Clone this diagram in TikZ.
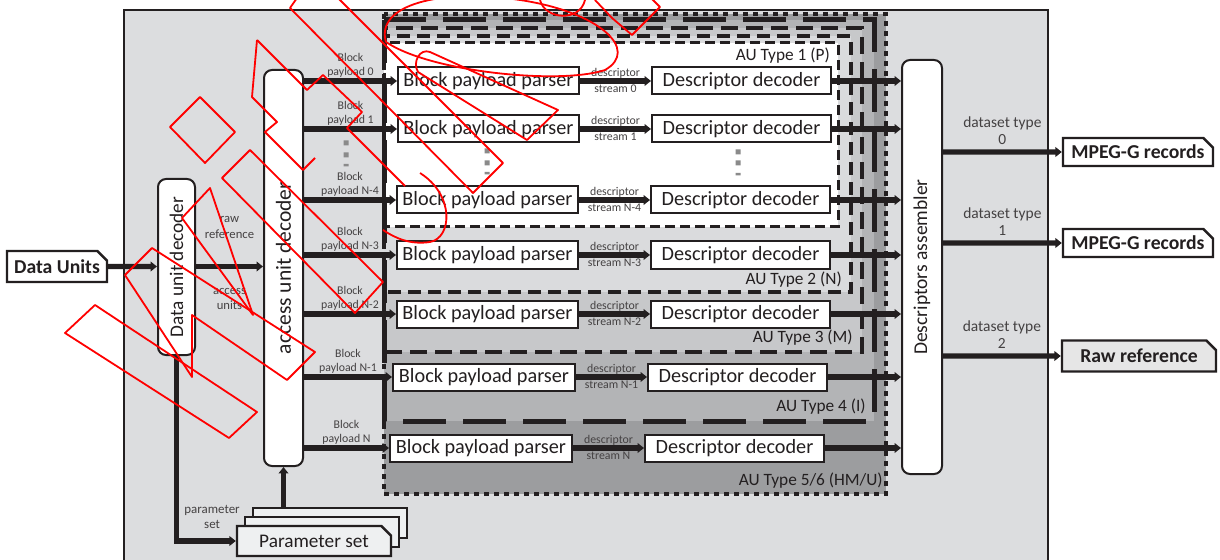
\documentclass[tikz,border=0pt]{standalone}
\usepackage{fontspec}
\setmainfont{Carlito}
\usetikzlibrary{arrows.meta,positioning,shapes.misc}
\definecolor{ink}{HTML}{231F20}
\definecolor{panel}{HTML}{DCDDDF}
\definecolor{auii}{HTML}{DADBDD}
\definecolor{auiii}{HTML}{C7C8CA}
\definecolor{auiv}{HTML}{B3B4B6}
\definecolor{auv}{HTML}{9C9D9F}
\definecolor{psfill}{HTML}{EEF0F1}
\definecolor{rawfill}{HTML}{E6E6E6}
\definecolor{dotgray}{HTML}{8A8A8A}
\newcommand{\boxfont}{\fontsize{14.4}{16}\selectfont}
\newcommand{\smallfont}{\fontsize{8.4}{10.5}\selectfont}
\tikzset{
  parser/.style={draw=ink,line width=0.5mm,fill=white,text=ink,inner sep=0pt,
    minimum height=6.75mm,font=\boxfont},
  unit/.style={draw=ink,line width=0.5mm,fill=white,rounded corners=2mm,inner sep=0pt},
  sideio/.style={chamfered rectangle,chamfered rectangle corners=north east,
    chamfered rectangle xsep=1.2mm,chamfered rectangle ysep=1.2mm,
    draw=ink,line width=0.6mm,fill=white,text=ink,inner sep=0pt,
    font=\bfseries\fontsize{14}{16}\selectfont},
  flow/.style={-{Triangle[length=1.6mm,width=2.4mm]},line width=1.3mm,draw=ink},
  lbl/.style={font=\smallfont,text=ink!85,align=center,inner sep=0pt},
  autag/.style={font=\fontsize{12.3}{14}\selectfont,text=ink,anchor=east,inner sep=0pt},
  scribble/.style={draw=red,line width=0.45mm,line join=round},
}
\begin{document}
\begin{tikzpicture}[x=0.25mm,y=-0.25mm]
\useasboundingbox (0,0) rectangle (1220,560);
% decoder panel
\fill[panel] (124,10) rectangle (1048,580);
\draw[ink,line width=0.6mm] (124,580) -- (124,10) -- (1048,10) -- (1048,580);
% AU type areas
\fill[auv] (384,14) rectangle (886,494);
\fill[auiv] (384,20) rectangle (874,421);
\fill[auiii] (384,28) rectangle (862,352);
\fill[auii] (384,36) rectangle (851,292);
\fill[white] (384,43) rectangle (838,227);
\draw[ink,line width=0.75mm,dash pattern=on 2.5mm off 1.25mm] (384,43) rectangle (838,227);
\draw[ink,line width=1mm,dash pattern=on 3.25mm off 1.75mm] (384,36) rectangle (851,292);
\draw[ink,line width=1.2mm,dash pattern=on 4.25mm off 2mm] (384,28) rectangle (862,352);
\draw[ink,line width=1.25mm,dash pattern=on 10.75mm off 4.25mm] (384,20) rectangle (874,421);
\draw[ink,line width=1.2mm,dash pattern=on 1.2mm off 1.3mm] (384,14) rectangle (886,494);
\node[autag] at (830,56) {AU Type 1 (P)};
\node[autag] at (842,280) {AU Type 2 (N)};
\node[autag] at (853,338) {AU Type 3 (M)};
\node[autag] at (866,407) {AU Type 4 (I)};
\node[autag] at (883,481) {AU Type 5/6 (HM/U)};

% inputs and decoders
\node[sideio,minimum width=25mm,minimum height=7.75mm] (du) at (57,266.5) {Data Units};
\node[unit,minimum width=9.25mm,minimum height=44mm] (dud) at (176.5,267) {};
\node[rotate=90,font=\fontsize{13.7}{15}\selectfont,text=ink] at (dud) {Data unit decoder};
\node[unit,minimum width=9.75mm,minimum height=99mm] (aud) at (283.5,268) {};
\node[rotate=90,font=\fontsize{15.3}{17}\selectfont,text=ink] at (aud) {access unit decoder};
\node[unit,minimum width=10mm,minimum height=103.5mm] (das) at (922,267) {};
\node[rotate=90,font=\fontsize{13.9}{15}\selectfont,text=ink] at (das) {Descriptors assembler};

% parameter sets
\node[sideio,fill=psfill,minimum width=38.5mm,minimum height=7.5mm] (ps3) at (330,523) {};
\node[sideio,fill=psfill,minimum width=38.5mm,minimum height=7.5mm] (ps2) at (322,532) {};
\node[sideio,fill=psfill,minimum width=38.5mm,minimum height=7.5mm,
  font=\fontsize{13.7}{15}\selectfont] (ps) at (314,541) {Parameter set};

% outputs
\node[sideio,minimum width=37.5mm,minimum height=7mm] (rec0) at (1138,152) {MPEG-G records};
\node[sideio,minimum width=37.5mm,minimum height=7mm] (rec1) at (1138,243) {MPEG-G records};
\node[sideio,fill=rawfill,minimum width=38.5mm,minimum height=7.75mm] (raw) at (1139,356) {Raw reference};

% block payload parsers and descriptor decoders
\node[parser,minimum width=45.25mm] (p0) at (488.5,81) {Block payload parser};
\node[parser,minimum width=44.75mm,right=17.75mm of p0] (d0) {Descriptor decoder};
\node[parser,minimum width=45.25mm] (p1) at (488.5,129) {Block payload parser};
\node[parser,minimum width=44.75mm,right=17.75mm of p1] (d1) {Descriptor decoder};
\node[parser,minimum width=45.25mm] (pN4) at (487.5,200) {Block payload parser};
\node[parser,minimum width=44.75mm,right=17.75mm of pN4] (dN4) {Descriptor decoder};
\node[parser,minimum width=45.25mm] (pN3) at (487.5,255) {Block payload parser};
\node[parser,minimum width=44.75mm,right=17.75mm of pN3] (dN3) {Descriptor decoder};
\node[parser,minimum width=45.25mm] (pN2) at (487.5,314) {Block payload parser};
\node[parser,minimum width=44.75mm,right=17.75mm of pN2] (dN2) {Descriptor decoder};
\node[parser,minimum width=45.5mm] (pN1) at (484,377) {Block payload parser};
\node[parser,minimum width=44.75mm,right=17.75mm of pN1] (dN1) {Descriptor decoder};
\node[parser,minimum width=45.5mm] (pN) at (481,448) {Block payload parser};
\node[parser,minimum width=44.75mm,right=17.75mm of pN] (dN) {Descriptor decoder};

% vertical dots
\fill[dotgray] (343.5,140.5) rectangle +(5,5) (343.5,152.5) rectangle +(5,5) (343.5,164) rectangle +(5,2.5);
\fill[dotgray] (484.5,148.5) rectangle +(5,5) (484.5,160.5) rectangle +(5,5) (484.5,172) rectangle +(5,2.5);
\fill[dotgray] (735.5,149.5) rectangle +(5,5) (735.5,160.5) rectangle +(5,5) (735.5,173) rectangle +(5,2.5);

% connectors
\draw[flow] (du) -- (du -| dud.west);
\draw[flow] (dud.east |- du) --
  node[lbl,midway,yshift=9.75mm,font=\fontsize{9}{11}\selectfont]{raw\\reference}
  node[lbl,midway,yshift=-8.1mm,font=\fontsize{9}{11}\selectfont]{access\\units}
  (aud.west |- du);
\draw[flow] (dud.south) |- node[lbl,pos=0.8,yshift=6mm,font=\fontsize{9.2}{11}\selectfont]{parameter\\set} (ps.west);
\draw[flow] (aud.south |- ps3.north) -- (aud.south);
\draw[flow] (aud.east |- p0) -- node[lbl,midway,yshift=3.9mm]{Block\\payload 0} (p0);
\draw[flow] (aud.east |- p1) -- node[lbl,midway,yshift=3.9mm]{Block\\payload 1} (p1);
\draw[flow] (aud.east |- pN4) -- node[lbl,midway,yshift=3.9mm]{Block\\payload N-4} (pN4);
\draw[flow] (aud.east |- pN3) -- node[lbl,midway,yshift=3.9mm]{Block\\payload N-3} (pN3);
\draw[flow] (aud.east |- pN2) -- node[lbl,midway,yshift=3.9mm]{Block\\payload N-2} (pN2);
\draw[flow] (aud.east |- pN1) -- node[lbl,midway,yshift=3.9mm]{Block\\payload N-1} (pN1);
\draw[flow] (aud.east |- pN) -- node[lbl,midway,yshift=3.9mm]{Block\\payload N} (pN);
\draw[flow] (p0) -- node[lbl,yshift=2mm]{descriptor} node[lbl,yshift=-2mm]{stream 0} (d0);
\draw[flow] (p1) -- node[lbl,yshift=2mm]{descriptor} node[lbl,yshift=-2mm]{stream 1} (d1);
\draw[flow] (pN4) -- node[lbl,yshift=2mm]{descriptor} node[lbl,yshift=-2mm]{stream N-4} (dN4);
\draw[flow] (pN3) -- node[lbl,yshift=2mm]{descriptor} node[lbl,yshift=-2mm]{stream N-3} (dN3);
\draw[flow] (pN2) -- node[lbl,yshift=2mm]{descriptor} node[lbl,yshift=-2mm]{stream N-2} (dN2);
\draw[flow] (pN1) -- node[lbl,yshift=2mm]{descriptor} node[lbl,yshift=-2mm]{stream N-1} (dN1);
\draw[flow] (pN) -- node[lbl,yshift=2mm]{descriptor} node[lbl,yshift=-2mm]{stream N} (dN);
\draw[flow] (d0) -- (d0 -| das.west);
\draw[flow] (d1) -- (d1 -| das.west);
\draw[flow] (dN4) -- (dN4 -| das.west);
\draw[flow] (dN3) -- (dN3 -| das.west);
\draw[flow] (dN2) -- (dN2 -| das.west);
\draw[flow] (dN1) -- (dN1 -| das.west);
\draw[flow] (dN) -- (dN -| das.west);
\draw[flow] (das.east |- rec0) -- node[lbl,midway,yshift=5.4mm,font=\fontsize{11}{12}\selectfont]{dataset type\\0} (rec0);
\draw[flow] (das.east |- rec1) -- node[lbl,midway,yshift=5.4mm,font=\fontsize{11}{12}\selectfont]{dataset type\\1} (rec1);
\draw[flow] (das.east |- raw) -- node[lbl,midway,yshift=5.4mm,font=\fontsize{11}{12}\selectfont]{dataset type\\2} (raw);

% red marks
\draw[scribble] (200,97) -- (235,132) -- (205,163) -- (170,127) -- cycle;
\draw[scribble] (65,333) -- (95,305) -- (257,412) -- (229,438) -- cycle;
\draw[scribble] (297,-2) -- (290,8) -- (473,193) -- (503,163) -- (337,-3);
\draw[scribble] (420,173) .. controls (455,195) and (452,238) .. (430,242)
  .. controls (410,245) and (395,238) .. (383,230);
\draw[scribble] (257,40) -- (252,97) -- (277,122) -- (265,132) -- (303,170) -- (315,158);
\draw[scribble] (257,40) -- (307,90) -- (323,75) -- (362,112) -- (347,128) -- (405,186);
\draw[scribble] (222,178) -- (250,150) -- (383,282) -- (355,313) -- cycle;
\draw[scribble] (182,218) -- (210,188) -- (253,315) -- cycle;
\draw[scribble] (125,275) -- (152,248) -- (315,352) -- (287,380) -- (192,315) -- (192,377) -- cycle;
\draw[scribble] (430,52) .. controls (420,48) and (412,62) .. (418,72) -- (527,140) -- (558,110) -- cycle;
\draw[scribble] (386,42) .. controls (375,5) and (440,-12) .. (520,0)
  .. controls (600,12) and (640,50) .. (605,70) .. controls (560,85) and (430,72) .. (386,42);
\draw[scribble] (540,0) .. controls (545,20) and (580,22) .. (585,0);
\draw[scribble] (650,-3) -- (660,7) -- (632,35) -- (612,18) -- (595,0);
\end{tikzpicture}
\end{document}
